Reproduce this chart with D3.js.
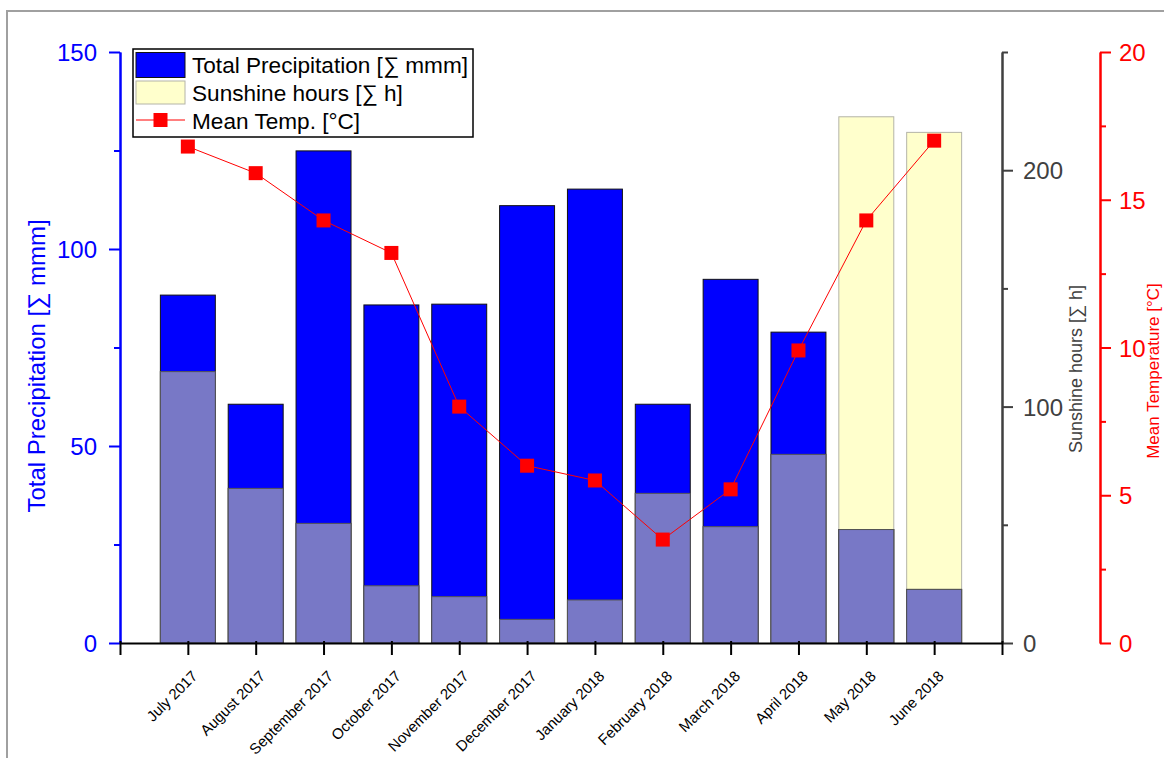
<!DOCTYPE html>
<html>
<head>
<meta charset="utf-8">
<script src="https://cdn.jsdelivr.net/npm/d3@7"></script>
<style>
  html, body { margin: 0; padding: 0; background: #fff; }
  svg { display: block; font-family: Arial, "Liberation Sans", sans-serif; }
</style>
</head>
<body>
<svg id="chart" width="1164" height="758"></svg>
<script>
// Monthly climate summary, July 2017 – June 2018
const months = ["July 2017", "August 2017", "September 2017", "October 2017",
  "November 2017", "December 2017", "January 2018", "February 2018",
  "March 2018", "April 2018", "May 2018", "June 2018"];
const precipitation = [88.3, 60.6, 124.9, 85.8, 86.0, 111.0, 115.2, 60.6, 92.3, 78.9, 28.8, 13.6]; // mm
const sunshine = [114.8, 65.4, 50.6, 24.2, 19.6, 10.0, 18.2, 63.3, 49.2, 79.8, 222.6, 216.0];      // h
const temperature = [16.8, 15.9, 14.3, 13.2, 8.0, 6.0, 5.5, 3.5, 5.2, 9.9, 14.3, 17.0];            // °C

const precipTicks = [0, 50, 100, 150];
const sunTicks = [0, 100, 200];
const tempTicks = [0, 5, 10, 15, 20];

const rows = months.map((m, i) => ({
  month: m, pos: i + 1,
  prec: precipitation[i], sun: sunshine[i], temp: temperature[i]
}));

const svg = d3.select("#chart");
const plotLeft = 120, plotRight = 1002, plotTop = 52, plotBottom = 643;
const tempAxisX = 1100;

const x = d3.scaleLinear().domain([0, months.length + 1]).range([plotLeft, plotRight]);
const yP = d3.scaleLinear().domain([0, 150]).range([plotBottom, plotTop]);
const yS = d3.scaleLinear().domain([0, 250]).range([plotBottom, plotTop]);
const yT = d3.scaleLinear().domain([0, 20]).range([plotBottom, plotTop]);
const barW = (x(1) - x(0)) * 0.81;

const BLUE = "#0000ff", YELLOW = "#ffffcc", OVERLAP = "#7878c6";
const RED = "#ff0000", GREY = "#404040";

// outer frame
svg.append("rect").attr("x", 7).attr("y", 11).attr("width", 1200).attr("height", 800)
  .attr("fill", "none").attr("stroke", "#a0a0a0").attr("stroke-width", 2);

// sunshine bars
svg.append("g").selectAll("rect").data(rows).join("rect")
  .attr("x", d => x(d.pos) - barW / 2).attr("width", barW)
  .attr("y", d => yS(d.sun)).attr("height", d => plotBottom - yS(d.sun))
  .attr("fill", YELLOW).attr("stroke", "#b4b4a8").attr("stroke-width", 1);

// precipitation bars
svg.append("g").selectAll("rect").data(rows).join("rect")
  .attr("x", d => x(d.pos) - barW / 2).attr("width", barW)
  .attr("y", d => yP(d.prec)).attr("height", d => plotBottom - yP(d.prec))
  .attr("fill", BLUE).attr("stroke", "#111").attr("stroke-width", 1);

// where both bars cover the same area
svg.append("g").selectAll("rect").data(rows).join("rect")
  .attr("x", d => x(d.pos) - barW / 2).attr("width", barW)
  .attr("y", d => Math.max(yP(d.prec), yS(d.sun)))
  .attr("height", d => plotBottom - Math.max(yP(d.prec), yS(d.sun)))
  .attr("fill", OVERLAP).attr("stroke", "#555").attr("stroke-width", 1);

// temperature line and markers
svg.append("path").datum(rows)
  .attr("d", d3.line().x(d => x(d.pos)).y(d => yT(d.temp)))
  .attr("fill", "none").attr("stroke", RED).attr("stroke-width", 1);
svg.append("g").selectAll("rect").data(rows).join("rect")
  .attr("x", d => x(d.pos) - 7).attr("y", d => yT(d.temp) - 7)
  .attr("width", 14).attr("height", 14).attr("fill", RED);

// axis helper: colours lines, ticks and labels
function styleAxis(g, color, fontSize) {
  g.select(".domain").attr("stroke", color).attr("stroke-width", 2);
  g.selectAll(".tick line").attr("stroke", color).attr("stroke-width", 2);
  g.selectAll(".tick text").attr("fill", color).attr("font-size", fontSize)
    .attr("font-family", "Arial, 'Liberation Sans', sans-serif");
}

// left axis: precipitation
const gL = svg.append("g").attr("transform", `translate(${plotLeft},0)`);
gL.call(d3.axisLeft(yP).tickValues([25, 75, 125]).tickSize(6).tickFormat("").tickSizeOuter(0));
gL.call(g => styleAxis(g, BLUE, 24));
const gL2 = svg.append("g").attr("transform", `translate(${plotLeft},0)`);
gL2.call(d3.axisLeft(yP).tickValues(precipTicks).tickSize(11).tickPadding(12).tickSizeOuter(0));
gL2.call(g => styleAxis(g, BLUE, 24));
gL2.selectAll(".tick text").attr("dy", "0.36em");

// sunshine axis
const gS = svg.append("g").attr("transform", `translate(${plotRight},0)`);
gS.call(d3.axisRight(yS).tickValues([50, 150, 250]).tickSize(6).tickFormat("").tickSizeOuter(0));
gS.call(g => styleAxis(g, GREY, 24));
const gS2 = svg.append("g").attr("transform", `translate(${plotRight},0)`);
gS2.call(d3.axisRight(yS).tickValues(sunTicks).tickSize(11).tickPadding(10).tickSizeOuter(0));
gS2.call(g => styleAxis(g, GREY, 24));
gS2.selectAll(".tick text").attr("dy", "0.36em");

// temperature axis
const gT = svg.append("g").attr("transform", `translate(${tempAxisX},0)`);
gT.call(d3.axisRight(yT).tickValues([2.5, 7.5, 12.5, 17.5]).tickSize(6).tickFormat("").tickSizeOuter(0));
gT.call(g => styleAxis(g, RED, 24));
const gT2 = svg.append("g").attr("transform", `translate(${tempAxisX},0)`);
gT2.call(d3.axisRight(yT).tickValues(tempTicks).tickSize(11).tickPadding(8).tickSizeOuter(0));
gT2.call(g => styleAxis(g, RED, 24));
gT2.selectAll(".tick text").attr("dy", "0.36em");

// bottom axis
const gX = svg.append("g").attr("transform", `translate(0,${plotBottom})`);
gX.call(d3.axisBottom(x).tickValues(d3.range(0, months.length + 2)).tickSize(12)
  .tickFormat(i => (i >= 1 && i <= months.length) ? months[i - 1] : "").tickSizeOuter(0));
gX.call(g => styleAxis(g, "#000", 15));
gX.selectAll(".tick line").attr("y1", -2);
gX.selectAll(".tick text")
  .attr("text-anchor", "end").attr("dy", 0).attr("y", 0)
  .attr("transform", "translate(10,34) rotate(-45)");

// axis titles
svg.append("text").attr("transform", "translate(45,366) rotate(-90)")
  .attr("text-anchor", "middle").attr("font-size", 24).attr("fill", BLUE)
  .text("Total Precipitation [∑ mmm]");
svg.append("text").attr("transform", "translate(1082,369) rotate(-90)")
  .attr("text-anchor", "middle").attr("font-size", 18).attr("fill", GREY)
  .text("Sunshine hours [∑ h]");
svg.append("text").attr("transform", "translate(1159,371) rotate(-90)")
  .attr("text-anchor", "middle").attr("font-size", 17).attr("fill", RED)
  .text("Mean Temperature [°C]");

// legend
const lg = svg.append("g");
lg.append("rect").attr("x", 133).attr("y", 49).attr("width", 340).attr("height", 88)
  .attr("fill", "#fff").attr("stroke", "#000").attr("stroke-width", 1.5);
lg.append("rect").attr("x", 136).attr("y", 52.5).attr("width", 49).attr("height", 25)
  .attr("fill", BLUE).attr("stroke", "#111");
lg.append("rect").attr("x", 136).attr("y", 81).attr("width", 49).attr("height", 23)
  .attr("fill", YELLOW).attr("stroke", "#b4b4a8");
lg.append("line").attr("x1", 136).attr("x2", 185).attr("y1", 120).attr("y2", 120)
  .attr("stroke", RED).attr("stroke-width", 1);
lg.append("rect").attr("x", 153.5).attr("y", 113).attr("width", 14).attr("height", 14).attr("fill", RED);
const legendText = ["Total Precipitation [∑ mmm]", "Sunshine hours [∑ h]", "Mean Temp. [°C]"];
lg.selectAll("text.lbl").data(legendText).join("text").attr("class", "lbl")
  .attr("x", 192).attr("y", (d, i) => 73 + i * 28)
  .attr("font-size", 22.6).attr("fill", "#000").text(d => d);
</script>
</body>
</html>
